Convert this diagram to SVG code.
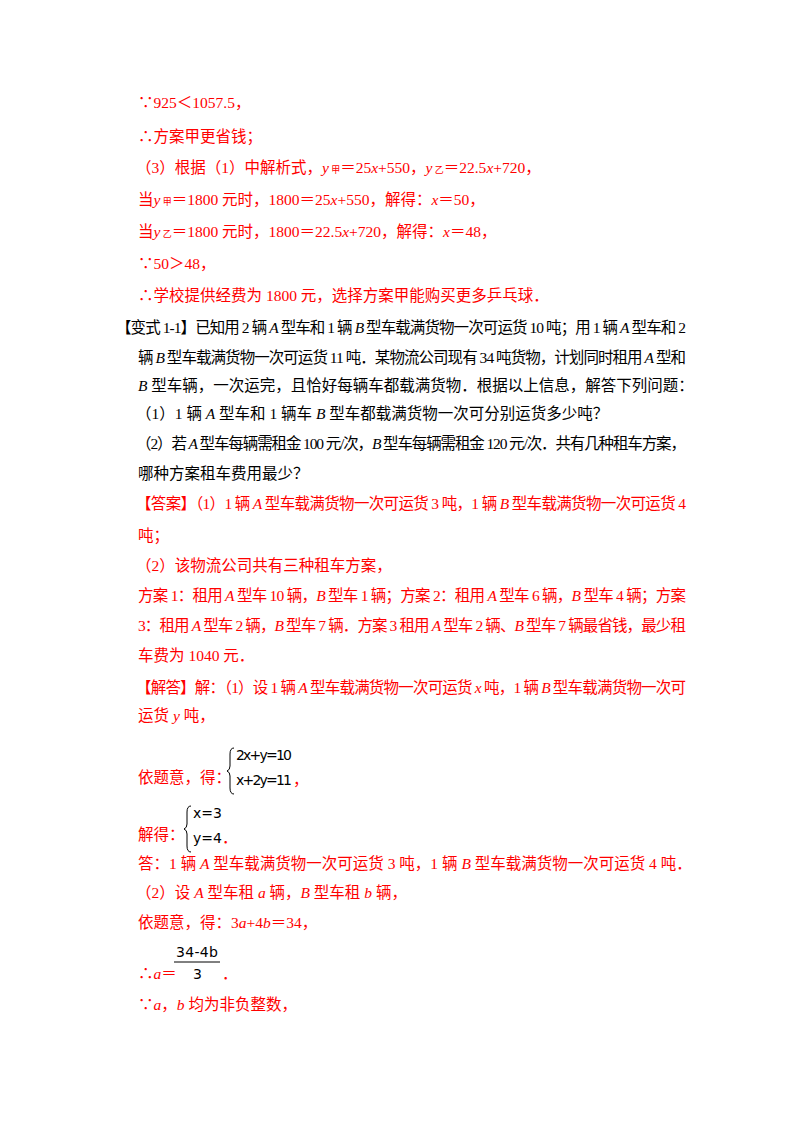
<svg xmlns="http://www.w3.org/2000/svg" width="800" height="1132" viewBox="0 0 800 1132">
<style>
text{font-family:"Liberation Serif","Noto Sans CJK SC",serif;font-size:15.5px}
.r{fill:#ff0000}.k{fill:#000}
.i{font-style:italic}
.s{font-size:9px}
.m{font-family:"DejaVu Sans","Noto Sans CJK SC",sans-serif;font-size:14px;fill:#000}
</style>
<rect width="800" height="1132" fill="#fff"/>
<g id="solution-top" class="r">
<text x="138" y="108">∵925＜1057.5，</text>
<text x="138" y="142">∴方案甲更省钱；</text>
<text x="136" y="173">（3）根据（1）中解析式，<tspan class="i">y</tspan><tspan class="s"> 甲</tspan>＝25<tspan class="i">x</tspan>+550，<tspan class="i">y</tspan><tspan class="s"> 乙</tspan>＝22.5<tspan class="i">x</tspan>+720，</text>
<text x="138" y="205">当<tspan class="i">y</tspan><tspan class="s"> 甲</tspan>＝1800 元时，1800＝25<tspan class="i">x</tspan>+550，解得：<tspan class="i">x</tspan>＝50，</text>
<text x="138" y="237">当<tspan class="i">y</tspan><tspan class="s"> 乙</tspan>＝1800 元时，1800＝22.5<tspan class="i">x</tspan>+720，解得：<tspan class="i">x</tspan>＝48，</text>
<text x="138" y="269">∵50＞48，</text>
<text x="138" y="301">∴学校提供经费为 1800 元，选择方案甲能购买更多乒乓球．</text>
</g>
<g id="question" class="k">
<text x="116" y="333" textLength="570">【变式 1-1】已知用 2 辆 <tspan class="i">A</tspan> 型车和 1 辆 <tspan class="i">B</tspan> 型车载满货物一次可运货 10 吨；用 1 辆 <tspan class="i">A</tspan> 型车和 2</text>
<text x="138" y="363" textLength="548">辆 <tspan class="i">B</tspan> 型车载满货物一次可运货 11 吨．某物流公司现有 34 吨货物，计划同时租用 <tspan class="i">A</tspan> 型和</text>
<text x="138" y="391">  <tspan class="i">B</tspan> 型车辆，一次运完，且恰好每辆车都载满货物．根据以上信息，解答下列问题：</text>
<text x="136" y="419">（1）1 辆 <tspan class="i">A</tspan> 型车和 1 辆车 <tspan class="i">B</tspan> 型车都载满货物一次可分别运货多少吨？</text>
<text x="136" y="449" textLength="550">（2）若 <tspan class="i">A</tspan> 型车每辆需租金 100 元/次，<tspan class="i">B</tspan> 型车每辆需租金 120 元/次．共有几种租车方案，</text>
<text x="138" y="479">哪种方案租车费用最少？</text>
</g>
<g id="answer" class="r">
<text x="136" y="509" textLength="550">【答案】（1）1 辆 <tspan class="i">A</tspan> 型车载满货物一次可运货 3 吨，1 辆 <tspan class="i">B</tspan> 型车载满货物一次可运货 4</text>
<text x="138" y="541">吨；</text>
<text x="136" y="571">（2）该物流公司共有三种租车方案，</text>
<text x="138" y="601" textLength="548">方案 1：租用 <tspan class="i">A</tspan> 型车 10 辆，<tspan class="i">B</tspan> 型车 1 辆；方案 2：租用 <tspan class="i">A</tspan> 型车 6 辆，<tspan class="i">B</tspan> 型车 4 辆；方案</text>
<text x="138" y="631" textLength="548">3：租用 <tspan class="i">A</tspan> 型车 2 辆，<tspan class="i">B</tspan> 型车 7 辆．方案 3 租用 <tspan class="i">A</tspan> 型车 2 辆、<tspan class="i">B</tspan> 型车 7 辆最省钱，最少租</text>
<text x="138" y="661">车费为 1040 元．</text>
</g>
<g id="solution" class="r">
<text x="136" y="693" textLength="550">【解答】解：（1）设 1 辆 <tspan class="i">A</tspan> 型车载满货物一次可运货 <tspan class="i">x</tspan> 吨，1 辆 <tspan class="i">B</tspan> 型车载满货物一次可</text>
<text x="138" y="721">运货 <tspan class="i">y</tspan> 吨，</text>
<text x="138" y="783">依题意，得：</text>
<path d="M234,748 q-4,0 -4,6 v12 q0,4 -3,5 q3,1 3,5 v12 q0,6 4,6" fill="none" stroke="#000" stroke-width="1"/>
<text class="m" x="236" y="760" textLength="56">2x+y=10</text>
<text class="m" x="236" y="785" textLength="56">x+2y=11</text>
<text x="293" y="785">，</text>
<text x="138" y="840">解得：</text>
<path d="M191,806 q-4,0 -4,6 v12 q0,4 -3,5 q3,1 3,5 v12 q0,6 4,6" fill="none" stroke="#000" stroke-width="1"/>
<text class="m" x="193" y="818">x=3</text>
<text class="m" x="193" y="843">y=4</text>
<text x="222" y="843">．</text>
<text x="138" y="869">答：1 辆 <tspan class="i">A</tspan> 型车载满货物一次可运货 3 吨，1 辆 <tspan class="i">B</tspan> 型车载满货物一次可运货 4 吨．</text>
<text x="136" y="898">（2）设 <tspan class="i">A</tspan> 型车租 <tspan class="i">a</tspan> 辆，<tspan class="i">B</tspan> 型车租 <tspan class="i">b</tspan> 辆，</text>
<text x="138" y="928">依题意，得：3<tspan class="i">a</tspan>+4<tspan class="i">b</tspan>＝34，</text>
<text class="m" x="176" y="957" textLength="42">34-4b</text>
<line x1="174" y1="962" x2="220" y2="962" stroke="#000" stroke-width="1"/>
<text class="m" x="193" y="979">3</text>
<text x="138" y="979">∴<tspan class="i">a</tspan>＝</text>
<text x="222" y="979">．</text>
<text x="138" y="1010">∵<tspan class="i">a</tspan>，<tspan class="i">b</tspan> 均为非负整数，</text>
</g>
</svg>
